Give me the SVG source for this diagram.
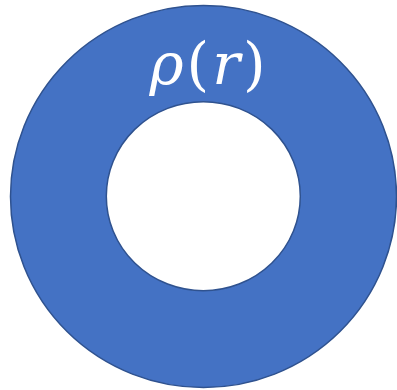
<svg xmlns="http://www.w3.org/2000/svg" width="397" height="390" viewBox="0 0 397 390">
<style>
.ring{fill:#4472C4;stroke:#2F528F;stroke-width:1.5}
.hole{fill:#FFFFFF;stroke:#2F528F;stroke-width:1.5}
.lbl{font-family:"DejaVu Serif","Liberation Serif",serif;font-size:58px;fill:#FFFFFF;letter-spacing:3px}
</style>
<g id="outer">
<ellipse class="ring" cx="203.5" cy="196.5" rx="193" ry="191"/>
</g>
<g id="inner">
<ellipse class="hole" cx="203.3" cy="196.2" rx="97" ry="94.5"/>
</g>
<g id="label">
<text class="lbl" x="209" y="84" text-anchor="middle"><tspan font-style="italic">ρ</tspan>(<tspan font-style="italic">r</tspan>)</text>
</g>
<g id="connectors"/>
</svg>
